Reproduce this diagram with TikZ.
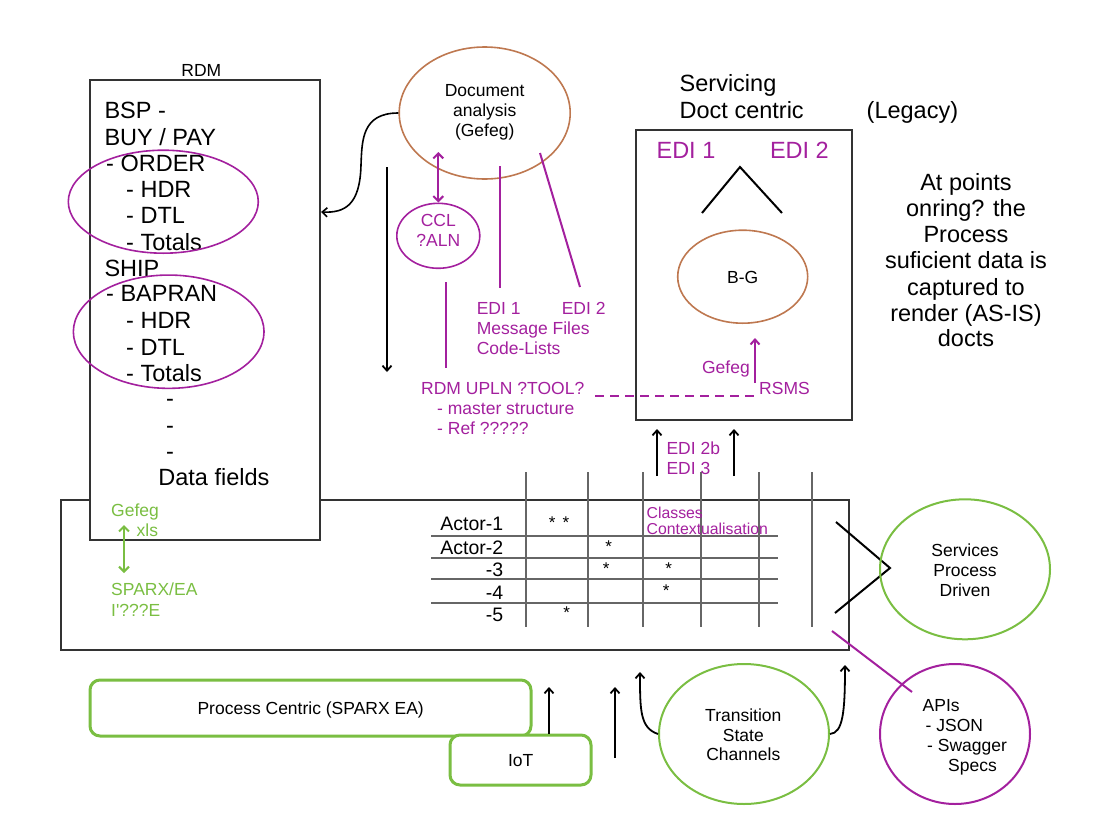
\documentclass[tikz,border=0pt]{standalone}
\usepackage{fontspec}
\setmainfont{Liberation Sans}[Ligatures=TeXOff]
\usetikzlibrary{arrows.meta,shapes.geometric}
\definecolor{pur}{RGB}{163,32,158}
\definecolor{grn}{RGB}{122,190,66}
\definecolor{brn}{RGB}{190,120,80}
\definecolor{dk}{RGB}{51,51,51}
\definecolor{gry}{RGB}{102,102,102}
\tikzset{
  fL/.style={font=\fontsize{23.5}{26}\selectfont},
  fM/.style={font=\fontsize{17.5}{20}\selectfont},
  fS/.style={font=\fontsize{15.8}{17}\selectfont},
  fT/.style={font=\fontsize{19.5}{22}\selectfont},
  fX/.style={font=\fontsize{17}{18}\selectfont},
  tb/.style={inner sep=0pt, anchor=base},
  tw/.style={inner sep=0pt, anchor=base west},
  te/.style={inner sep=0pt, anchor=base east},
  box/.style={draw=dk, line width=2pt, rectangle, inner sep=0pt},
  gbox/.style={draw=grn, line width=3pt, rectangle, rounded corners=10pt, fill=white, inner sep=0pt},
  ell/.style={ellipse, inner sep=0pt},
  tip/.style={-{Straight Barb[length=5pt,width=9pt]}},
  dtip/.style={{Straight Barb[length=5pt,width=10pt]}-{Straight Barb[length=5pt,width=10pt]}},
  conn/.style={line width=1.8pt, black},
  pline/.style={line width=2pt, pur},
  gridline/.style={line width=2pt, gry},
}
\begin{document}
\begin{tikzpicture}[x=1pt,y=-1pt]
\useasboundingbox (0,0) rectangle (1093,825);

% ---------- bottom process box and table grid
\node[box, minimum width=788pt, minimum height=150pt] (bot) at (455,575) {};
\foreach \x [count=\k] in {526,588,643,701,759,812} {
  \coordinate (vt\k) at (\x,472); \coordinate (vb\k) at (\x,627);
  \draw[gridline] (vt\k) -- (vb\k);
}
\foreach \y [count=\k] in {536,558,579,603} {
  \coordinate (hl\k) at (431,\y); \coordinate (hr\k) at (778,\y);
  \draw[gridline] (hl\k) -- (hr\k);
}
\foreach \t/\yy [count=\k] in {Actor-1/530.3,Actor-2/554.3,-3/576,-4/599.3,-5/621} {
  \node[te, fT] (act\k) at (503.5,\yy) {\t};
}
\foreach \xx/\yy [count=\k] in {552.3/528.8,566/528.8,608.7/552.1,606.3/574.1,668.7/574.1,666.3/596.5,566.7/618.8} {
  \node[tb, fX] (st\k) at (\xx,\yy) {*};
}
\node[tw, fS, text=pur] (cls1) at (646.5,518) {Classes};
\node[tw, fS, text=pur] (cls2) at (646.5,534.7) {Contextualisation};

% ---------- RDM box
\node[tb, fM] (rdmlbl) at (201.3,76.3) {RDM};
\node[box, fill=white, minimum width=230pt, minimum height=460pt] (rdm) at (205,310) {};
\foreach \t/\xx/\yy [count=\k] in {{BSP -}/104.3/118.4,{BUY / PAY}/104.3/145.1,{- ORDER}/106/171.7,{- HDR}/126/197.7,{- DTL}/126/223.4,{- Totals}/126/250.1,{SHIP}/104.3/276.7,{- BAPRAN}/106/301.7,{- HDR}/126/328.4,{- DTL}/126/355.1,{- Totals}/126/381.7,{-}/166/406.5,{-}/166/433.2,{-}/166/459.8,{Data fields}/158.2/485.1} {
  \node[tw, fL] (rl\k) at (\xx,\yy) {\t};
}
\node[ell, draw=pur, line width=1.6pt, minimum width=190pt, minimum height=103pt] (grp1) at (163.3,201.7) {};
\node[ell, draw=pur, line width=1.6pt, minimum width=190.7pt, minimum height=113.3pt] (grp2) at (168.7,331.7) {};

% green labels
\node[tw, fM, text=grn] (gg1) at (111,516.3) {Gefeg};
\node[tw, fM, text=grn] (gg2) at (136.5,536.3) {xls};
\node[tw, fM, text=grn] (sp1) at (111,595.6) {SPARX/EA};
\node[tw, fM, text=grn] (sp2) at (111,616.3) {I'???E};
\coordinate (ga1) at (124,525); \coordinate (ga2) at (124,573);
\draw[grn, line width=2pt, dtip] (ga1) -- (ga2);

% ---------- document analysis
\node[ell, draw=brn, line width=1.6pt, minimum width=171pt, minimum height=132pt] (doc) at (484.7,113) {};
\foreach \t/\yy [count=\k] in {Document/96.3,analysis/116.3,(Gefeg)/136.3} {
  \node[tb, fM] (dl\k) at (484.7,\yy) {\t};
}
\draw[conn, line width=1.6pt, tip] (doc.west) .. controls (362,113) and (362,140) .. (361,165) .. controls (360,205) and (345,213) .. ([yshift=-133pt]rdm.north east);
\coordinate (va1) at (387,167); \coordinate (va2) at (387,372);
\draw[conn, tip] (va1) -- (va2);

% CCL
\node[ell, draw=pur, line width=1.6pt, minimum width=83pt, minimum height=65pt] (ccl) at (438.3,235.8) {};
\node[tb, fM, text=pur] (ccl1) at (438.3,226.3) {CCL};
\node[tb, fM, text=pur] (ccl2) at (438.3,246.3) {?ALN};
\coordinate (dd1) at (438.3,152);
\draw[pline, dtip] (dd1) -- (ccl.north);

% purple lines and labels
\coordinate (p1a) at (446,282); \coordinate (p1b) at (446,368);
\coordinate (p2a) at (500,166); \coordinate (p2b) at (500,288);
\coordinate (p3a) at (540,153); \coordinate (p3b) at (580,287);
\draw[pline] (p1a) -- (p1b);
\draw[pline] (p2a) -- (p2b);
\draw[pline] (p3a) -- (p3b);
\node[tw, fM, text=pur] (e1) at (476.6,314.6) {EDI 1};
\node[tw, fM, text=pur] (e2) at (561.6,314.6) {EDI 2};
\node[tw, fM, text=pur] (mf) at (476.6,334.6) {Message Files};
\node[tw, fM, text=pur] (cl) at (476.6,354.6) {Code-Lists};
\node[tw, fM, text=pur] (ru1) at (421,394.6) {RDM UPLN ?TOOL?};
\node[tw, fM, text=pur] (ru2) at (437,414.6) {- master structure};
\node[tw, fM, text=pur] (ru3) at (437,434) {- Ref ?????};
\coordinate (ds1) at (595,396); \coordinate (ds2) at (755,396);
\draw[pur, line width=1.5pt, dash pattern=on 9pt off 6pt] (ds1) -- (ds2);

% ---------- servicing
\node[tw, fL] (sv1) at (679.5,91.7) {Servicing};
\node[tw, fL] (sv2) at (679.5,118.4) {Doct centric};
\node[tw, fL] (leg) at (866.5,118.4) {(Legacy)};
\node[box, minimum width=216pt, minimum height=290pt] (srv) at (744,275) {};
\node[tw, fL, text=pur] (se1) at (656.4,158.4) {EDI 1};
\node[tw, fL, text=pur] (se2) at (769.8,158.4) {EDI 2};
\coordinate (c1) at (702,213); \coordinate (c2) at (740,167); \coordinate (c3) at (782,213);
\draw[conn, line width=2pt] (c1) -- (c2) -- (c3);
\node[ell, draw=brn, line width=1.6pt, minimum width=130pt, minimum height=93pt] (bg) at (742.7,276.7) {};
\node[tb, fM] (bgl) at (742.7,283) {B-G};
\coordinate (gu1) at (755,383); \coordinate (gu2) at (755,338);
\draw[pline, tip] (gu1) -- (gu2);
\node[te, fM, text=pur] (gef) at (750,373.6) {Gefeg};
\node[tw, fM, text=pur] (rsms) at (759,394) {RSMS};

\foreach \t/\yy [count=\k] in {At points/190.1,onring? the/216.7,Process/242.7,suficient data is/268.4,captured to/295.1,render (AS-IS)/321.7,docts/346.7} {
  \node[tb, fL] (ap\k) at (966,\yy) {\t};
}

% arrows into servicing
\coordinate (ua1) at (657,476); \coordinate (ub1) at (657,429);
\coordinate (ua2) at (734,476); \coordinate (ub2) at (734,429);
\draw[conn, tip] (ua1) -- (ub1);
\draw[conn, tip] (ua2) -- (ub2);
\node[tw, fM, text=pur] (e2b) at (666.3,454) {EDI 2b};
\node[tw, fM, text=pur] (e3) at (666.3,474) {EDI 3};

% ---------- services
\coordinate (k1) at (836,522); \coordinate (k2) at (890,568); \coordinate (k3) at (835,613);
\draw[conn, line width=2pt] (k1) -- (k2) -- (k3);
\node[ell, draw=grn, line width=2pt, minimum width=170pt, minimum height=140pt] (svc) at (965,569.3) {};
\foreach \t/\yy [count=\k] in {Services/556.3,Process/576.3,Driven/596.3} {
  \node[tb, fM] (sl\k) at (965,\yy) {\t};
}

% ---------- APIs
\node[ell, draw=pur, line width=2pt, minimum width=150pt, minimum height=140pt] (api) at (955,734) {};
\coordinate (al1) at (832,631); \coordinate (al2) at (912,692);
\draw[pline] (al1) -- (al2);
\node[tw, fM] (ap1l) at (922.5,711.3) {APIs};
\node[tw, fM] (ap2l) at (925.5,731.3) {- JSON};
\node[tw, fM] (ap3l) at (927,751.3) {- Swagger};
\node[tw, fM] (ap4l) at (948,771.3) {Specs};

% ---------- transition
\node[ell, draw=grn, line width=2pt, minimum width=170pt, minimum height=140pt] (trans) at (744,734) {};
\foreach \t/\yy [count=\k] in {Transition/721.3,State/741.3,Channels/760.6} {
  \node[tb, fM] (tl\k) at (743.3,\yy) {\t};
}
\coordinate (tt1) at (640,672); \coordinate (tt2) at (845,665);
\draw[conn, tip] (trans.west) .. controls (640,728) and (640,710) .. (tt1);
\draw[conn, tip] (trans.east) .. controls (843,733) and (845,712) .. (tt2);
\coordinate (ub3) at (615,758); \coordinate (ut3) at (615,687);
\draw[conn, tip] (ub3) -- (ut3);

% ---------- process centric and IoT
\node[gbox, minimum width=441pt, minimum height=56pt] (proc) at (310.5,708) {};
\node[tb, fM] (procl) at (310.7,714.6) {Process Centric (SPARX EA)};
\node[gbox, minimum width=141pt, minimum height=50pt] (iot) at (520.5,760) {};
\node[tb, fM] (iotl) at (520.7,766.3) {IoT};
\coordinate (ut4) at (549,687);
\draw[conn, tip] ([xshift=28.5pt]iot.north) -- (ut4);
\end{tikzpicture}
\end{document}
